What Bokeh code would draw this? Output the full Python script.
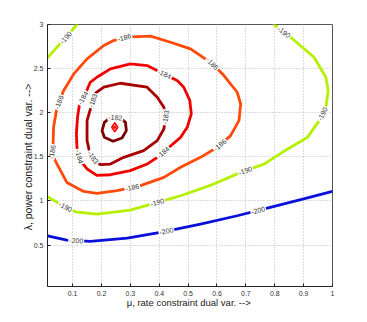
import math
from bokeh.plotting import figure
from bokeh.models import FixedTicker, Range1d, ColumnDataSource
from bokeh.core.properties import value
from bokeh.embed import file_html
from bokeh.resources import INLINE

# ---- data ----
x_ticks = [0.1, 0.2, 0.3, 0.4, 0.5, 0.6, 0.7, 0.8, 0.9, 1.0]
x_tick_labels = ["0.1", "0.2", "0.3", "0.4", "0.5", "0.6", "0.7", "0.8", "0.9", "1"]
y_ticks = [0.5, 1.0, 1.5, 2.0, 2.5, 3.0]
y_tick_labels = ["0.5", "1", "1.5", "2", "2.5", "3"]

# contour level -200 (open curve)
mu_200 = [0.013, 0.080, 0.161, 0.289, 0.404, 0.543, 0.670, 0.774, 0.890, 1.0]
lam_200 = [0.605, 0.556, 0.541, 0.578, 0.643, 0.737, 0.832, 0.919, 1.014, 1.108]

# contour level -190 (main open curve)
mu_190 = [0.013, 0.057, 0.109, 0.184, 0.300, 0.393, 0.474, 0.589, 0.682, 0.763,
          0.826, 0.913, 0.954, 0.977, 0.985, 0.977, 0.936, 0.855, 0.797]
lam_190 = [1.048, 0.964, 0.877, 0.851, 0.896, 0.983, 1.059, 1.191, 1.324, 1.418,
           1.551, 1.721, 1.910, 2.062, 2.251, 2.402, 2.629, 2.856, 3.0]
# contour level -190 (top-left corner piece)
mu_190b = [0.013, 0.046, 0.080, 0.115]
lam_190b = [2.622, 2.743, 2.864, 3.0]

# contour level -186 (closed)
mu_186 = [0.283, 0.370, 0.439, 0.508, 0.543, 0.584, 0.624, 0.670, 0.682, 0.676,
          0.647, 0.601, 0.543, 0.474, 0.416, 0.335, 0.254, 0.184, 0.138, 0.080,
          0.046, 0.028, 0.032, 0.034, 0.046, 0.069, 0.104, 0.150, 0.208, 0.242]
lam_186 = [2.856, 2.868, 2.799, 2.724, 2.648, 2.554, 2.421, 2.232, 2.099, 1.910,
           1.740, 1.608, 1.494, 1.381, 1.267, 1.173, 1.116, 1.086, 1.108, 1.210,
           1.418, 1.532, 1.608, 1.835, 2.062, 2.251, 2.440, 2.610, 2.762, 2.818]

# contour level -184 (closed)
mu_184 = [0.300, 0.358, 0.416, 0.462, 0.485, 0.506, 0.511, 0.497, 0.474, 0.427,
          0.393, 0.358, 0.300, 0.231, 0.184, 0.150, 0.127, 0.115, 0.113, 0.117,
          0.124, 0.144, 0.161, 0.184, 0.231]
lam_184 = [2.554, 2.535, 2.440, 2.364, 2.289, 2.137, 1.986, 1.835, 1.721, 1.589,
           1.494, 1.418, 1.343, 1.297, 1.290, 1.362, 1.456, 1.608, 1.759, 1.948,
           2.099, 2.213, 2.345, 2.402, 2.497]

# contour level -183 (closed)
mu_183 = [0.208, 0.265, 0.358, 0.393, 0.416, 0.422, 0.416, 0.393, 0.346, 0.277,
          0.231, 0.196, 0.179, 0.159, 0.150, 0.150, 0.170, 0.179]
lam_183 = [2.289, 2.334, 2.289, 2.175, 2.062, 1.948, 1.816, 1.683, 1.570, 1.494,
           1.418, 1.411, 1.456, 1.551, 1.683, 1.910, 2.137, 2.221]

# contour level -182 (closed)
mu_182 = [0.231, 0.210, 0.202, 0.210, 0.240, 0.271, 0.286, 0.283, 0.265]
lam_182 = [1.948, 1.891, 1.797, 1.721, 1.676, 1.714, 1.797, 1.891, 1.941]

# optimum marker
mu_opt = [0.246]
lam_opt = [1.835]

# (curve name, label text, fractional vertex index where the label sits)
labels = [
    ("200", "-200", 1.4), ("200", "-200", 4.15), ("200", "-200", 6.7),
    ("190", "-190", 1.35), ("190", "-190", 5.0), ("190", "-190", 8.2),
    ("190", "-190", 12.5), ("190", "-190", 17.4), ("190b", "-190", 1.9),
    ("186", "-186", 29.9), ("186", "-186", 5.0), ("186", "-186", 10.8),
    ("186", "-186", 15.35), ("186", "-186", 21.3), ("186", "-186", 24.3),
    ("184", "-184", 2.05), ("184", "-184", 9.4), ("184", "-184", 16.3),
    ("184", "-184", 20.6),
    ("183", "-183", 16.0), ("183", "-183", 5.0), ("183", "-183", 12.4),
    ("182", "-182", 8.5),
]

# ---- plotting ----
X0, X1, Y0, Y1 = 0.013, 1.0, 0.03, 3.0
BL, BR, BT, BB = 47, 20, 24, 28
W, H = 352, 314
FW, FH = W - BL - BR, H - BT - BB

p = figure(width=W, height=H,
           x_range=Range1d(X0, X1), y_range=Range1d(Y0, Y1),
           output_backend="svg", toolbar_location=None,
           min_border_left=BL, min_border_top=BT, min_border_bottom=BB,
           min_border_right=BR)
p.background_fill_color = "white"
p.border_fill_color = "white"
p.outline_line_color = "#555555"
p.outline_line_width = 1

font = "Liberation Sans"
for ax in (p.xaxis[0], p.yaxis[0]):
    ax.major_tick_in = 3
    ax.major_tick_out = 0
    ax.minor_tick_in = 0
    ax.minor_tick_out = 0
    ax.axis_line_color = "#222222"
    ax.major_tick_line_color = "#222222"
    ax.major_label_text_font = font
    ax.major_label_text_font_size = "7px"
    ax.major_label_text_color = "#333333"
    ax.axis_label_text_font = font
    ax.axis_label_text_font_style = "normal"
    ax.axis_label_text_color = "#222222"

p.xaxis.ticker = FixedTicker(ticks=x_ticks)
p.xaxis.major_label_overrides = {t: s for t, s in zip(x_ticks, x_tick_labels)}
p.yaxis.ticker = FixedTicker(ticks=y_ticks)
p.yaxis.major_label_overrides = {t: s for t, s in zip(y_ticks, y_tick_labels)}
p.xaxis.axis_label = "\u03bc,  rate constraint dual var. -->"
p.yaxis.axis_label = "\u03bb,  power constraint dual var. -->"
p.xaxis.axis_label_text_font_size = "9.5px"
p.yaxis.axis_label_text_font_size = "10.5px"
p.xaxis.major_label_standoff = 4
p.xaxis.axis_label_standoff = -2
p.yaxis.major_label_standoff = 4
p.yaxis.axis_label_standoff = -3

p.xgrid.ticker = FixedTicker(ticks=x_ticks)
p.ygrid.ticker = FixedTicker(ticks=y_ticks)
for g in (p.xgrid[0], p.ygrid[0]):
    g.grid_line_color = "#b8b8b8"
    g.grid_line_dash = "1 2"
    g.grid_line_width = 1

curves = {
    "200": (mu_200, lam_200, False, "#0a10d8"),
    "190": (mu_190, lam_190, False, "#b4f000"),
    "190b": (mu_190b, lam_190b, False, "#b4f000"),
    "186": (mu_186, lam_186, True, "#ff4a0a"),
    "184": (mu_184, lam_184, True, "#f20000"),
    "183": (mu_183, lam_183, True, "#a80000"),
    "182": (mu_182, lam_182, True, "#7a0000"),
}

for key, (xs, ys, closed, col) in curves.items():
    xx = list(xs) + ([xs[0]] if closed else [])
    yy = list(ys) + ([ys[0]] if closed else [])
    p.line(xx, yy, line_color=col, line_width=2.8, line_join="round", line_cap="round")

sx = FW / (X1 - X0)
sy = FH / (Y1 - Y0)

lx, ly, la, lt = [], [], [], []
for key, txt, t in labels:
    xs, ys, closed, col = curves[key]
    xx = list(xs) + ([xs[0]] if closed else [])
    yy = list(ys) + ([ys[0]] if closed else [])
    i = min(int(math.floor(t)), len(xx) - 2)
    f = t - i
    x = xx[i] + f * (xx[i + 1] - xx[i])
    y = yy[i] + f * (yy[i + 1] - yy[i])
    ang = math.atan2((yy[i + 1] - yy[i]) * sy, (xx[i + 1] - xx[i]) * sx)
    if ang > math.pi / 2:
        ang -= math.pi
    elif ang < -math.pi / 2:
        ang += math.pi
    lx.append(x); ly.append(y); la.append(ang); lt.append(txt)

src = ColumnDataSource(dict(x=lx, y=ly, angle=la, text=lt))
p.text(x="x", y="y", text="text", angle="angle", source=src,
       text_font=value(font), text_font_size="7px", text_color="#333333",
       text_align="center", text_baseline="middle",
       background_fill_color="white", background_fill_alpha=1.0, padding=1)

p.scatter(mu_opt, lam_opt, marker="diamond", size=9, fill_color="white",
          line_color="#ff0000", line_width=1.5)
p.scatter(mu_opt, lam_opt, marker="circle", size=2.5, fill_color="#ff0000",
          line_color="#ff0000")

open("out.html", "w").write(file_html(p, INLINE))
